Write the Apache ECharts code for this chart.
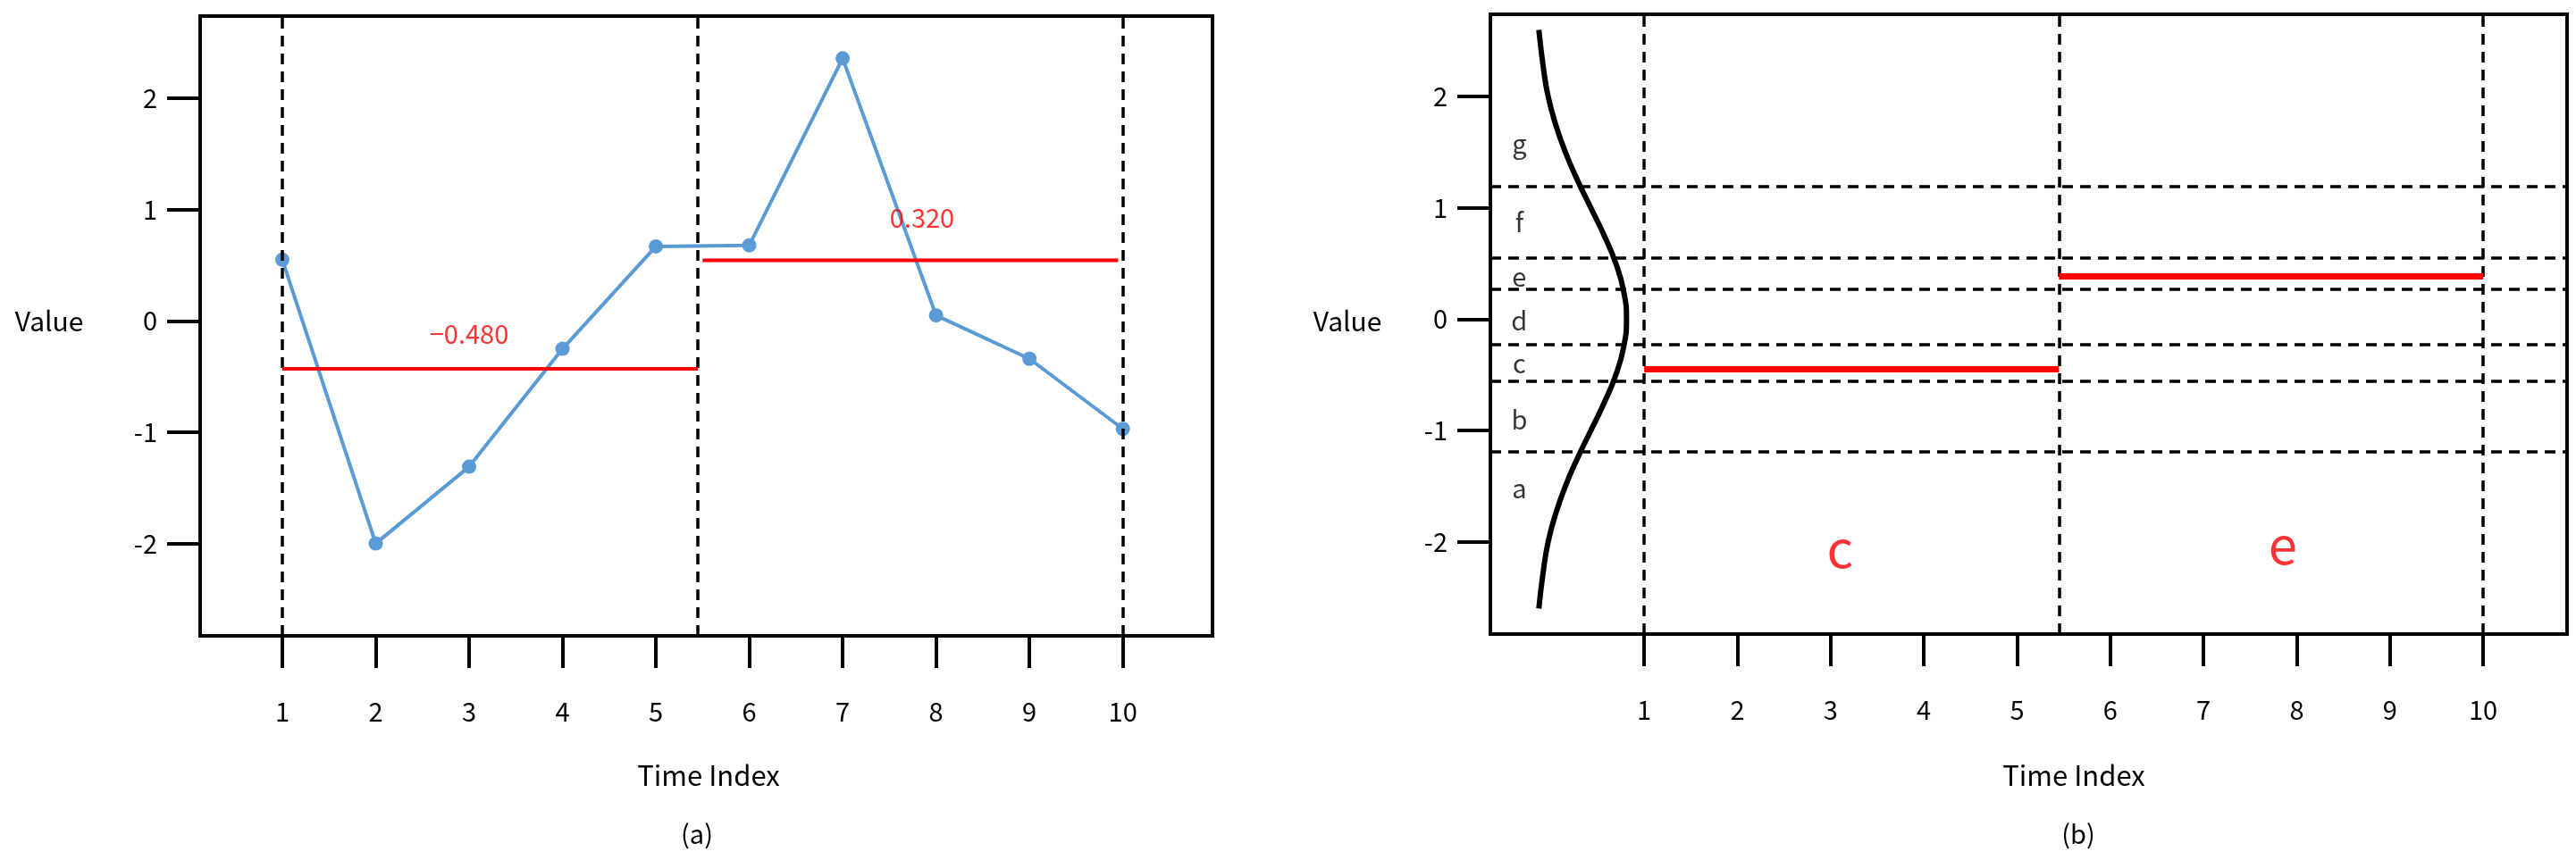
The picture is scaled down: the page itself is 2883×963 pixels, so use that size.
<!DOCTYPE html>
<html>
<head>
<meta charset="utf-8">
<script src="https://cdn.jsdelivr.net/npm/echarts@6/dist/echarts.min.js"></script>
<style>html,body{margin:0;padding:0;background:#fff}#main{width:2883px;height:963px}</style>
</head>
<body>
<div id="main"></div>
<script>
var FONT = '"Noto Sans CJK KR", "Noto Sans", sans-serif';

// panel (a)
var timeIdx = [1, 2, 3, 4, 5, 6, 7, 8, 9, 10];
var values = [0.55, -2.0, -1.31, -0.25, 0.67, 0.68, 2.36, 0.05, -0.34, -0.97];
var splitX = [1, 5.45, 10];
var meanLines = [[1, 5.45, -0.43], [5.5, 9.95, 0.545]];
var meanLabels = [['−0.480', 3.0, -0.12], ['0.320', 7.85, 0.93]];

// panel (b)
var bandEdges = [1.19, 0.55, 0.27, -0.23, -0.56, -1.19];
var bandNames = ['g', 'f', 'e', 'd', 'c', 'b', 'a'];
var bandLabelY = [1.58, 0.87, 0.38, -0.01, -0.40, -0.90, -1.52];
var symLines = [[1, 5.45, -0.45], [5.45, 10, 0.385]];
var symLabels = [['c', 3.1, -2.06], ['e', 7.85, -2.03]];
var curveY = [2.6, 2.25, 2.0, 1.75, 1.5, 1.25, 1.0, 0.75, 0.5, 0.25, 0, -0.25, -0.5, -0.75, -1.0, -1.25, -1.5, -1.75, -2.0, -2.25, -2.6];
var curveX = [-0.13, -0.08, -0.03, 0.05, 0.155, 0.284, 0.428, 0.572, 0.696, 0.78, 0.81, 0.78, 0.696, 0.572, 0.428, 0.284, 0.155, 0.05, -0.03, -0.08, -0.13];

var yTicks = [-2, -1, 0, 1, 2];
var yMin = -2.83, yMax = 2.74;

function xAxisFor(idx, min, max) {
  return {
    type: 'value', gridIndex: idx, min: min, max: max, position: 'bottom',
    axisLine: {show: false, onZero: false}, splitLine: {show: false},
    axisTick: {show: true, customValues: timeIdx, length: 36, lineStyle: {color: '#000', width: 4}},
    axisLabel: {customValues: timeIdx, margin: 70, fontSize: 29, color: '#000', fontFamily: FONT}
  };
}
function yAxisFor(idx) {
  return {
    type: 'value', gridIndex: idx, min: yMin, max: yMax, position: 'left',
    axisLine: {show: false, onZero: false}, splitLine: {show: false},
    axisTick: {show: true, customValues: yTicks, length: 37, lineStyle: {color: '#000', width: 4}},
    axisLabel: {customValues: yTicks, margin: 48, fontSize: 29, color: '#000', fontFamily: FONT}
  };
}
function dashV(idx, xs) {
  return {type: 'line', xAxisIndex: idx, yAxisIndex: idx, data: [], silent: true,
    markLine: {symbol: 'none', label: {show: false}, animation: false,
      lineStyle: {color: '#000', type: [12, 8], width: 3.5},
      data: xs.map(function (x) { return {xAxis: x}; })}};
}
function redSeg(idx, seg, w) {
  return {type: 'line', xAxisIndex: idx, yAxisIndex: idx, symbol: 'none', z: 5,
    lineStyle: {color: '#ff0000', width: w}, data: [[seg[0], seg[2]], [seg[1], seg[2]]]};
}
function textPts(idx, items, color, size) {
  return {type: 'scatter', xAxisIndex: idx, yAxisIndex: idx, symbolSize: 0, z: 6,
    label: {show: true, position: 'inside', formatter: function (p) { return p.data[2]; },
      color: color, fontSize: size, fontFamily: FONT},
    data: items.map(function (t) { return [t[1], t[2], t[0]]; })};
}

var series = [];
series.push(dashV(0, splitX));
series.push({type: 'line', xAxisIndex: 0, yAxisIndex: 0, symbol: 'circle', symbolSize: 16, z: 4,
  lineStyle: {color: '#5b9bd5', width: 4}, itemStyle: {color: '#5b9bd5'},
  data: timeIdx.map(function (t, i) { return [t, values[i]]; })});
meanLines.forEach(function (s) { series.push(redSeg(0, s, 4)); });
series.push(textPts(0, meanLabels, '#ff0000', 29));

series.push({type: 'line', xAxisIndex: 1, yAxisIndex: 1, data: [], silent: true,
  markLine: {symbol: 'none', label: {show: false}, animation: false,
    lineStyle: {color: '#000', type: [12, 8], width: 3.5},
    data: splitX.map(function (x) { return {xAxis: x}; }).concat(bandEdges.map(function (y) { return {yAxis: y}; }))}});
series.push({type: 'line', xAxisIndex: 1, yAxisIndex: 1, symbol: 'none', smooth: true, z: 4,
  lineStyle: {color: '#000', width: 6},
  data: curveY.map(function (y, i) { return [curveX[i], y]; })});
symLines.forEach(function (s) { series.push(redSeg(1, s, 7)); });
series.push(textPts(1, bandNames.map(function (n, i) { return [n, -0.34, bandLabelY[i]]; }), '#000', 29));
series.push(textPts(1, symLabels, '#ff0000', 58));

var chart = echarts.init(document.getElementById('main'));
chart.setOption({
  animation: false,
  grid: [
    {left: 224, top: 18, width: 1133, height: 694, show: true, borderColor: '#000', borderWidth: 4, backgroundColor: 'transparent'},
    {left: 1668, top: 16, width: 1205, height: 694, show: true, borderColor: '#000', borderWidth: 4, backgroundColor: 'transparent'}
  ],
  xAxis: [xAxisFor(0, 0.12, 10.96), xAxisFor(1, -0.65, 10.9)],
  yAxis: [yAxisFor(0), yAxisFor(1)],
  graphic: [
    {type: 'text', x: 55, y: 360, style: {text: 'Value', font: '30px ' + FONT, fill: '#000', align: 'center', verticalAlign: 'middle'}},
    {type: 'text', x: 1508, y: 360, style: {text: 'Value', font: '30px ' + FONT, fill: '#000', align: 'center', verticalAlign: 'middle'}},
    {type: 'text', x: 793, y: 868, style: {text: 'Time Index', font: '31px ' + FONT, fill: '#000', align: 'center', verticalAlign: 'middle'}},
    {type: 'text', x: 2321, y: 868, style: {text: 'Time Index', font: '31px ' + FONT, fill: '#000', align: 'center', verticalAlign: 'middle'}},
    {type: 'text', x: 780, y: 934, style: {text: '(a)', font: '29px ' + FONT, fill: '#000', align: 'center', verticalAlign: 'middle'}},
    {type: 'text', x: 2326, y: 934, style: {text: '(b)', font: '29px ' + FONT, fill: '#000', align: 'center', verticalAlign: 'middle'}}
  ],
  series: series
});
</script>
</body>
</html>
